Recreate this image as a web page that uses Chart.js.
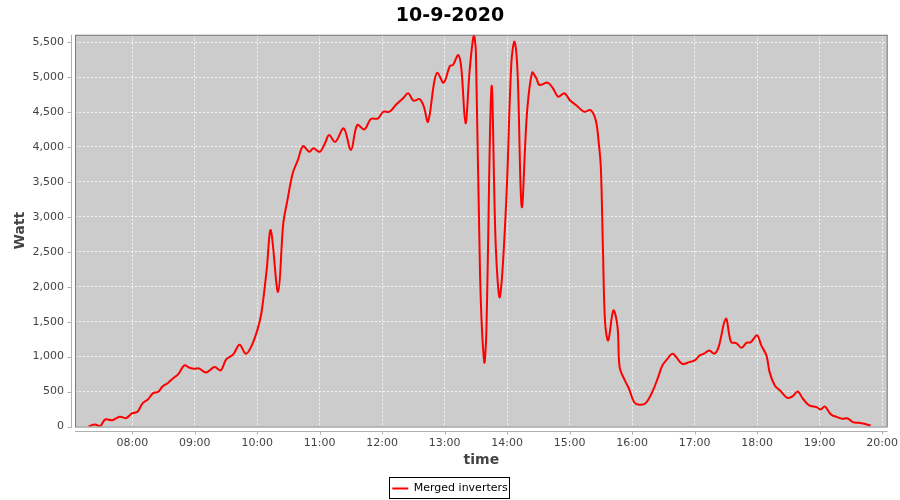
<!DOCTYPE html>
<html>
<head>
<meta charset="utf-8">
<script src="https://cdn.jsdelivr.net/npm/chart.js@4.4.0/dist/chart.umd.min.js"></script>
<style>
  html, body { margin: 0; padding: 0; background: #fff; }
  #wrap { width: 900px; height: 500px; }
</style>
</head>
<body>
<div id="wrap"><canvas id="power"></canvas></div>
<script>
const times = [
  "07:18", "07:24", "07:29", "07:34", "07:41", "07:48", "07:54", "08:00", "08:05", "08:10",
  "08:15", "08:20", "08:25", "08:29", "08:34", "08:39", "08:44", "08:50", "08:55", "09:00",
  "09:04", "09:11", "09:19", "09:25", "09:30", "09:37", "09:43", "09:49", "09:54", "10:00",
  "10:04", "10:09", "10:13", "10:20", "10:25", "10:29", "10:34", "10:39", "10:44", "10:50",
  "10:54", "11:00", "11:05", "11:09", "11:15", "11:23", "11:30", "11:36", "11:43", "11:49",
  "11:56", "12:01", "12:07", "12:13", "12:20", "12:25", "12:30", "12:36", "12:40", "12:44",
  "12:50", "12:53", "12:59", "13:05", "13:08", "13:13", "13:16", "13:20", "13:24", "13:28",
  "13:30", "13:34", "13:38", "13:40", "13:45", "13:49", "13:53", "13:59", "14:04", "14:07",
  "14:10", "14:14", "14:19", "14:24", "14:28", "14:31", "14:39", "14:44", "14:49", "14:55",
  "15:00", "15:06", "15:14", "15:20", "15:25", "15:28", "15:30", "15:32", "15:34", "15:37",
  "15:42", "15:46", "15:48", "15:53", "15:57", "16:02", "16:07", "16:13", "16:20", "16:25",
  "16:29", "16:34", "16:39", "16:48", "16:55", "17:00", "17:05", "17:09", "17:14", "17:19",
  "17:23", "17:30", "17:35", "17:40", "17:45", "17:50", "17:54", "18:00", "18:04", "18:09",
  "18:12", "18:17", "18:22", "18:29", "18:34", "18:39", "18:44", "18:50", "18:57", "19:01",
  "19:05", "19:11", "19:17", "19:22", "19:27", "19:32", "19:38", "19:43", "19:49"
];

const watts = [
  0, 30, 5, 100, 90, 140, 120, 190, 210, 335,
  387, 477, 497, 573, 620, 688, 745, 874, 841, 826,
  831, 774, 850, 802, 956, 1032, 1171, 1042, 1136, 1376,
  1624, 2235, 2809, 1925, 2905, 3239, 3621, 3812, 4012, 3931,
  3980, 3931, 4051, 4170, 4074, 4266, 3955, 4313, 4252, 4399,
  4409, 4504, 4504, 4600, 4696, 4768, 4662, 4686, 4576, 4361,
  4934, 5063, 4920, 5159, 5173, 5316, 5126, 4338, 5101, 5600,
  5341, 2140, 921, 1351, 4862, 2594, 1853, 3191, 5197, 5507,
  5054, 3143, 4481, 5063, 4982, 4887, 4920, 4839, 4719, 4768,
  4672, 4600, 4504, 4528, 4385, 4051, 3693, 2522, 1495, 1232,
  1662, 1423, 850, 659, 540, 348, 311, 334, 516, 707,
  874, 970, 1042, 898, 921, 946, 1017, 1042, 1089, 1042,
  1136, 1543, 1208, 1194, 1127, 1199, 1208, 1304, 1161, 1017,
  778, 588, 516, 411, 430, 502, 397, 301, 277, 244,
  287, 172, 134, 110, 115, 62, 53, 38, 14
];

const hourTicks = [8, 9, 10, 11, 12, 13, 14, 15, 16, 17, 18, 19, 20];
const wattTicks = [0, 500, 1000, 1500, 2000, 2500, 3000, 3500, 4000, 4500, 5000, 5500];

function toHours(t) {
  const parts = t.split(":");
  return Number(parts[0]) + Number(parts[1]) / 60;
}

function hourLabel(v) {
  return String(Math.round(v)).padStart(2, "0") + ":00";
}

// grey plot background, outline, and the offset axis lines like the original
const plotFrame = {
  id: "plotFrame",
  beforeDraw(chart) {
    const { ctx, chartArea: a } = chart;
    ctx.save();
    ctx.fillStyle = "#cccccc";
    ctx.fillRect(a.left, a.top, a.right - a.left, a.bottom - a.top);
    ctx.restore();
  },
  afterDraw(chart) {
    const { ctx, chartArea: a } = chart;
    const xs = chart.scales.x, ys = chart.scales.y;
    ctx.save();
    ctx.lineWidth = 1;
    ctx.strokeStyle = "#7a7a7a";
    ctx.strokeRect(a.left + 0.5, a.top + 0.5, a.right - a.left - 1, a.bottom - a.top);

    ctx.strokeStyle = "#b0b0b0";
    ctx.beginPath();
    const ax = Math.round(a.left - 4) + 0.5;
    ctx.moveTo(ax, a.top);
    ctx.lineTo(ax, a.bottom + 1);
    wattTicks.forEach(v => {
      const y = Math.round(ys.getPixelForValue(v)) + 0.5;
      ctx.moveTo(ax - 4, y);
      ctx.lineTo(ax, y);
    });
    const ay = Math.round(a.bottom + 4) + 0.5;
    ctx.moveTo(a.left, ay);
    ctx.lineTo(a.right, ay);
    hourTicks.forEach(h => {
      const x = Math.round(xs.getPixelForValue(h)) + 0.5;
      ctx.moveTo(x, ay);
      ctx.lineTo(x, ay + 3);
    });
    ctx.stroke();

    // legend frame
    const box = chart.legend && chart.legend.legendHitBoxes && chart.legend.legendHitBoxes[0];
    if (box) {
      ctx.strokeStyle = "#000000";
      ctx.strokeRect(Math.round(box.left - 3) + 0.5, Math.round(box.top - 6) + 0.5,
        Math.round(box.width + 5), Math.round(box.height + 10));
    }
    ctx.restore();
  }
};

new Chart(document.getElementById("power"), {
  type: "line",
  data: {
    datasets: [{
      label: "Merged inverters",
      data: times.map((t, i) => ({ x: toHours(t), y: watts[i] })),
      borderColor: "#ff0000",
      backgroundColor: "#ff0000",
      borderWidth: 2,
      pointRadius: 0,
      pointStyle: "line",
      tension: 0.35,
      fill: false
    }]
  },
  options: {
    responsive: true,
    maintainAspectRatio: false,
    animation: false,
    layout: { padding: { left: 0, right: 0, top: 0, bottom: -4 } },
    plugins: {
      title: {
        display: true,
        text: "10-9-2020",
        color: "#000000",
        font: { family: "DejaVu Sans", size: 19, weight: "bold" },
        padding: { top: 5, bottom: 7 }
      },
      legend: {
        display: true,
        position: "bottom",
        labels: {
          usePointStyle: true,
          pointStyleWidth: 16,
          padding: 7,
          color: "#000000",
          font: { family: "DejaVu Sans", size: 11 }
        }
      },
      tooltip: { enabled: false }
    },
    scales: {
      x: {
        type: "linear",
        min: 7 + 5 / 60,
        max: 20 + 5.4 / 60,
        afterBuildTicks: s => { s.ticks = hourTicks.map(v => ({ value: v })); },
        afterFit: s => { s.height = 49.5; },
        grid: {
          color: "rgba(255,255,255,0.8)",
          drawTicks: true,
          tickLength: 8,
          tickColor: "rgba(0,0,0,0)"
        },
        border: { display: false, dash: [2, 2] },
        ticks: {
          padding: 2,
          maxRotation: 0,
          color: "#444444",
          font: { family: "DejaVu Sans", size: 11 },
          callback: v => hourLabel(v)
        },
        title: {
          display: true,
          text: "time",
          color: "#444444",
          font: { family: "DejaVu Sans", size: 14, weight: "bold" },
          padding: { top: 0, bottom: 7 }
        }
      },
      y: {
        type: "linear",
        min: 0,
        max: 5605,
        afterBuildTicks: s => { s.ticks = wattTicks.map(v => ({ value: v })); },
        afterFit: s => { s.width = 75; },
        grid: {
          color: "rgba(255,255,255,0.8)",
          drawTicks: true,
          tickLength: 8,
          tickColor: "rgba(0,0,0,0)"
        },
        border: { display: false, dash: [2, 2] },
        ticks: {
          padding: 3,
          color: "#444444",
          font: { family: "DejaVu Sans", size: 11 },
          callback: v => v.toLocaleString("en-US")
        },
        title: {
          display: true,
          text: "Watt",
          color: "#444444",
          font: { family: "DejaVu Sans", size: 14, weight: "bold" },
          padding: { top: 12, bottom: 0 }
        }
      },
      // empty strip on the right so the plot ends at the same place as the original
      yRight: {
        type: "linear",
        position: "right",
        afterFit: s => { s.width = 12; },
        grid: { display: false },
        border: { display: false },
        ticks: { display: false }
      }
    }
  },
  plugins: [plotFrame]
});
</script>
</body>
</html>
